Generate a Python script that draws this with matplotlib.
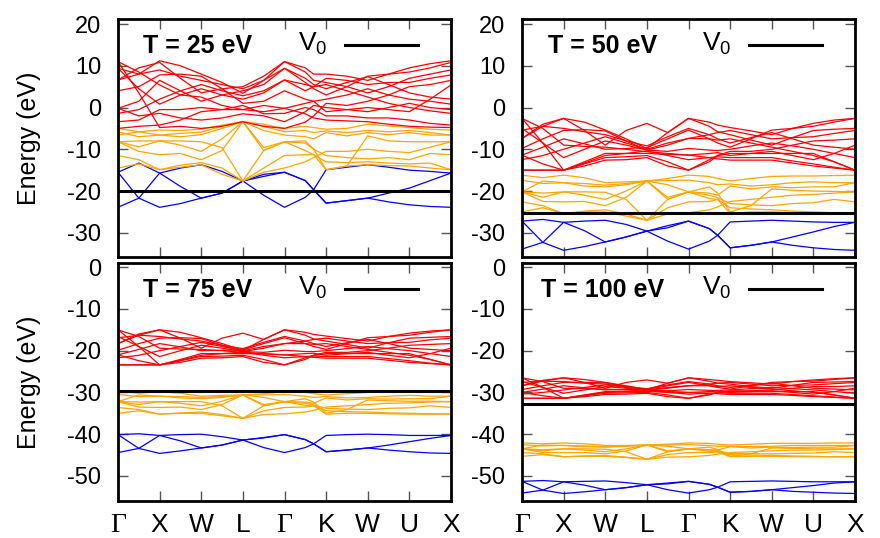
import matplotlib
matplotlib.use("Agg")
import matplotlib.pyplot as plt

plt.rcParams["font.family"] = ["Liberation Sans", "DejaVu Sans"]
plt.rcParams["axes.unicode_minus"] = False

# k-path sample positions (high-symmetry points at integers)
kpos = [0, 0.5, 1, 1.5, 2, 2.5, 3, 3.5, 4, 4.5, 4.7, 5, 5.5, 6, 6.5, 7, 7.5, 8]
kticks = [0, 1, 2, 3, 4, 5, 6, 7, 8]
klabels = ["Γ", "X", "W", "L", "Γ", "K", "W", "U", "X"]

temps = ["T = 25 eV", "T = 50 eV", "T = 75 eV", "T = 100 eV"]
v0_levels = [-20.0, -25.3, -29.6, -32.8]

# ---- T = 25 eV ----
t25_blue = [
    [-23.9, -21.7, -15.7, -14.5, -13.7, -15.3, -17.6, -21.0, -23.9, -21.5, -19.7, -14.9, -14.3, -13.7, -14.3, -15.0, -15.3, -15.7],
    [-15.5, -13.3, -15.7, -18.9, -21.7, -20.5, -17.6, -16.0, -15.5, -17.5, -19.7, -22.9, -22.3, -21.7, -20.5, -19.3, -17.5, -15.7],
    [-15.5, -21.7, -23.9, -23.0, -21.7, -20.5, -17.6, -16.5, -15.5, -17.5, -19.7, -22.9, -22.3, -21.7, -22.6, -23.3, -23.7, -23.9],
]
t25_orange = [
    [-5.0, -5.8, -5.4, -5.5, -5.2, -4.2, -3.4, -4.0, -5.0, -4.5, -4.8, -5.2, -5.0, -4.0, -4.4, -4.8, -5.2, -5.4],
    [-5.8, -7.0, -6.6, -6.2, -5.9, -4.5, -3.4, -4.5, -5.8, -5.5, -6.0, -5.6, -6.0, -5.5, -5.8, -5.5, -6.0, -6.6],
    [-6.6, -5.8, -6.6, -7.0, -6.5, -5.0, -3.4, -5.5, -6.6, -7.0, -7.5, -6.0, -6.8, -6.0, -6.5, -6.0, -6.6, -6.6],
    [-8.2, -9.4, -8.0, -8.0, -8.2, -9.6, -17.6, -15.5, -14.5, -13.0, -12.0, -10.5, -10.5, -10.0, -10.5, -10.8, -9.5, -8.2],
    [-8.2, -8.0, -8.0, -9.0, -10.5, -7.5, -3.4, -9.6, -8.2, -8.5, -10.0, -11.5, -12.0, -12.3, -12.0, -12.5, -11.0, -11.3],
    [-8.2, -10.5, -11.3, -11.0, -12.5, -10.3, -3.4, -10.3, -8.2, -10.3, -11.3, -13.0, -13.2, -13.0, -13.3, -13.5, -13.3, -14.9],
    [-11.5, -12.5, -14.9, -13.8, -13.2, -14.5, -17.6, -14.5, -11.5, -11.3, -11.3, -14.9, -14.0, -13.7, -13.9, -14.0, -14.5, -14.9],
    [-14.5, -13.5, -14.9, -14.3, -13.7, -16.0, -17.6, -10.3, -8.2, -8.0, -10.0, -14.9, -14.0, -6.8, -8.0, -8.2, -8.2, -8.2],
]
t25_red = [
    [11.0, 3.5, -4.8, -4.5, -5.0, -4.5, -3.4, -4.5, -5.0, -3.5, -2.0, 1.0, 0.5, 1.5, 3.0, 5.0, 5.5, 6.5],
    [11.0, 8.5, 5.4, 3.0, 2.5, 0.5, -0.5, -1.0, -0.2, -1.5, -2.5, -3.0, -3.2, -3.4, -4.0, -4.5, -4.7, -4.8],
    [9.4, 4.5, 0.8, 3.0, 4.5, 3.0, 2.0, 3.5, 6.6, 5.5, 5.0, 5.5, 4.0, 2.5, 1.0, 0.0, -0.8, -1.4],
    [9.4, 8.0, 9.0, 7.5, 6.5, 5.5, 4.5, 6.5, 9.4, 7.0, 5.5, 4.5, 6.0, 7.4, 5.5, 3.5, 2.5, 2.0],
    [6.6, 8.0, 11.2, 10.0, 8.0, 6.0, 3.4, 6.5, 11.0, 8.5, 6.5, 6.0, 5.0, 3.5, 5.0, 7.0, 8.0, 9.0],
    [6.6, 9.5, 10.8, 7.0, 3.5, 4.5, 5.0, 7.5, 11.0, 9.5, 8.0, 8.0, 7.5, 6.5, 8.0, 9.5, 10.5, 11.2],
    [4.0, 5.0, 7.8, 8.0, 7.5, 4.5, 1.0, 1.5, 4.0, 2.0, 1.5, 2.0, 3.0, 4.5, 3.0, 2.0, 1.5, 0.8],
    [-0.2, 1.5, 6.5, 4.0, 1.5, 3.0, 4.0, 5.5, 9.4, 6.0, 4.5, 3.0, 5.0, 7.5, 8.0, 8.5, 9.5, 10.8],
    [-0.2, -2.0, -1.4, -2.5, -3.0, -2.5, -1.5, -2.0, -3.4, -1.0, 0.5, 0.0, -0.5, -1.0, 0.0, 1.0, 0.0, -0.5],
    [-1.4, -0.5, 2.0, 4.0, 5.5, 4.0, 2.8, 4.0, 6.6, 4.0, 5.0, 7.0, 6.5, 5.5, 6.0, 6.0, 7.0, 7.8],
    [-3.4, -3.0, -0.5, -0.5, 0.0, -0.5, -0.5, 0.5, -0.2, 1.0, 1.5, -1.0, -0.5, 0.0, -0.5, -1.0, 2.0, 5.4],
    [-5.0, -4.5, -4.2, -3.0, -1.0, -0.5, 0.5, -1.5, -1.4, 0.0, -0.5, -2.0, -2.0, -2.5, -2.5, -3.0, -3.8, -4.2],
]

# ---- T = 50 eV ----
t50_blue = [
    [-33.9, -32.3, -27.5, -27.2, -27.0, -28.0, -29.6, -32.0, -33.9, -32.0, -30.6, -27.4, -27.2, -27.0, -27.2, -27.4, -27.5, -27.5],
    [-27.2, -26.8, -27.5, -29.5, -32.2, -31.0, -29.6, -28.3, -27.2, -29.0, -30.6, -33.6, -33.0, -32.2, -31.0, -29.8, -28.5, -27.5],
    [-27.2, -32.3, -34.2, -33.3, -32.2, -31.0, -29.6, -28.8, -27.2, -29.0, -30.6, -33.6, -33.0, -32.2, -33.0, -33.6, -34.0, -34.2],
]
t50_orange = [
    [-16.2, -16.8, -16.2, -16.8, -18.0, -17.8, -17.6, -17.0, -16.2, -16.5, -17.0, -17.6, -17.0, -16.5, -16.4, -16.4, -16.3, -16.2],
    [-17.4, -18.2, -18.0, -18.2, -18.6, -18.2, -17.6, -17.5, -17.4, -18.0, -18.5, -18.3, -18.8, -18.5, -18.0, -17.8, -18.0, -18.0],
    [-20.2, -17.6, -18.0, -18.8, -19.0, -18.5, -17.6, -18.5, -20.2, -20.5, -21.0, -18.8, -19.5, -19.0, -19.2, -19.0, -19.0, -18.0],
    [-20.2, -21.5, -20.2, -20.2, -20.3, -22.0, -27.0, -25.5, -25.2, -24.5, -23.8, -22.5, -22.0, -21.5, -21.0, -20.8, -20.5, -20.2],
    [-20.2, -20.5, -20.2, -21.0, -22.0, -20.0, -17.6, -21.5, -20.2, -21.0, -21.6, -23.0, -23.3, -23.5, -23.0, -22.8, -22.0, -22.6],
    [-20.2, -22.5, -22.6, -22.5, -23.5, -21.5, -17.6, -22.0, -20.2, -21.8, -22.0, -24.0, -24.3, -24.5, -24.8, -25.0, -25.2, -25.4],
    [-22.6, -23.5, -25.4, -24.8, -24.5, -25.5, -27.0, -24.0, -22.6, -22.5, -22.0, -25.4, -25.0, -25.0, -25.2, -25.3, -25.4, -25.4],
    [-25.0, -24.0, -25.4, -25.0, -25.0, -26.0, -27.0, -22.0, -20.2, -19.0, -20.5, -25.0, -23.5, -19.5, -19.8, -20.0, -20.1, -20.2],
]
t50_red = [
    [-2.6, -8.5, -15.0, -14.0, -12.6, -12.5, -12.0, -14.0, -15.0, -13.0, -11.5, -10.5, -10.5, -10.0, -9.0, -8.0, -7.8, -7.5],
    [-2.6, -5.0, -9.0, -9.3, -9.5, -10.0, -10.6, -11.0, -11.4, -12.0, -12.3, -12.6, -12.6, -12.6, -13.3, -14.0, -14.5, -15.0],
    [-5.0, -8.5, -12.0, -10.0, -8.0, -9.0, -10.2, -9.0, -7.4, -7.5, -7.8, -7.5, -8.5, -9.5, -10.5, -11.5, -13.0, -15.0],
    [-5.4, -4.5, -5.0, -5.8, -6.5, -8.0, -9.2, -7.0, -5.0, -6.5, -7.5, -8.5, -7.2, -6.0, -7.5, -9.0, -9.5, -10.0],
    [-7.4, -4.5, -2.6, -3.5, -5.4, -7.5, -9.8, -6.0, -2.6, -4.5, -5.8, -6.5, -7.8, -9.0, -7.2, -5.5, -5.2, -5.0],
    [-7.4, -4.0, -2.6, -5.5, -9.0, -5.5, -3.8, -6.0, -2.6, -3.5, -4.2, -4.8, -5.6, -6.5, -5.0, -3.8, -3.0, -2.6],
    [-9.8, -7.5, -5.5, -5.3, -5.6, -8.0, -10.2, -10.5, -9.8, -10.2, -10.3, -10.0, -9.2, -8.5, -9.2, -10.0, -11.0, -12.0],
    [-11.4, -9.5, -7.5, -8.7, -10.0, -9.8, -9.6, -7.5, -5.4, -7.5, -8.5, -9.5, -7.5, -5.4, -5.0, -4.5, -3.5, -2.6],
    [-11.4, -13.5, -15.0, -13.5, -12.0, -11.8, -11.5, -13.0, -15.0, -12.5, -11.5, -11.0, -11.0, -11.0, -11.0, -11.0, -13.0, -15.0],
    [-12.5, -11.5, -10.0, -8.5, -7.0, -8.5, -10.0, -8.5, -7.4, -6.5, -6.0, -5.5, -6.5, -7.5, -7.2, -7.0, -6.2, -5.5],
    [-15.0, -15.0, -15.0, -13.0, -11.0, -11.0, -11.0, -11.2, -11.4, -11.0, -10.8, -11.5, -11.0, -10.5, -11.5, -12.5, -11.0, -9.0],
    [-15.0, -15.0, -15.0, -13.3, -11.5, -11.0, -10.4, -11.5, -12.5, -12.0, -11.8, -12.0, -12.0, -12.0, -12.8, -13.5, -14.3, -15.0],
]

# ---- T = 75 eV ----
t75_blue = [
    [-44.4, -43.4, -40.3, -40.1, -40.0, -40.6, -41.4, -43.2, -44.4, -43.2, -42.3, -40.3, -40.1, -40.0, -40.1, -40.3, -40.3, -40.3],
    [-40.1, -39.9, -40.3, -41.6, -43.3, -42.6, -41.4, -40.8, -40.1, -41.3, -42.3, -44.2, -43.8, -43.3, -42.6, -41.8, -41.0, -40.3],
    [-40.1, -43.4, -44.6, -44.0, -43.3, -42.6, -41.4, -40.9, -40.1, -41.3, -42.3, -44.2, -43.8, -43.3, -43.8, -44.2, -44.5, -44.6],
]
t75_orange = [
    [-29.8, -30.2, -29.8, -30.2, -30.9, -30.7, -30.6, -30.3, -29.8, -30.0, -30.3, -30.6, -30.3, -30.0, -29.9, -29.9, -29.9, -29.8],
    [-30.5, -31.0, -30.9, -31.0, -31.2, -31.0, -30.6, -30.6, -30.5, -30.9, -31.2, -31.0, -31.3, -31.2, -30.9, -30.7, -30.9, -30.9],
    [-32.2, -30.6, -30.9, -31.3, -31.5, -31.2, -30.6, -31.2, -32.2, -32.3, -32.6, -31.3, -31.8, -31.5, -31.6, -31.5, -31.5, -30.9],
    [-32.2, -32.9, -32.2, -32.2, -32.2, -33.2, -36.2, -35.3, -35.1, -34.7, -34.3, -33.5, -33.2, -32.9, -32.6, -32.5, -32.3, -32.2],
    [-32.2, -32.3, -32.2, -32.6, -33.2, -32.1, -30.6, -32.9, -32.2, -32.6, -33.0, -33.8, -34.0, -34.1, -33.8, -33.7, -33.2, -33.6],
    [-32.2, -33.5, -33.6, -33.5, -34.1, -32.9, -30.6, -33.2, -32.2, -33.1, -33.2, -34.4, -34.6, -34.7, -34.9, -35.0, -35.1, -35.2],
    [-33.6, -34.1, -35.2, -34.9, -34.7, -35.3, -36.2, -34.4, -33.6, -33.5, -33.2, -35.2, -35.0, -35.0, -35.1, -35.2, -35.2, -35.2],
    [-35.0, -34.4, -35.2, -35.0, -35.0, -35.6, -36.2, -33.2, -32.2, -31.5, -32.3, -35.0, -34.1, -31.8, -32.0, -32.1, -32.1, -32.2],
]
t75_red = [
    [-15.0, -19.0, -23.4, -22.8, -21.8, -21.7, -21.4, -22.8, -23.4, -22.1, -21.1, -20.4, -20.4, -20.0, -19.4, -18.7, -18.5, -18.3],
    [-15.0, -16.6, -19.4, -19.6, -19.7, -20.0, -20.4, -20.7, -21.0, -21.4, -21.6, -21.8, -21.8, -21.8, -22.3, -22.8, -23.1, -23.4],
    [-16.6, -19.0, -21.4, -20.0, -18.7, -19.4, -20.2, -19.4, -18.3, -18.3, -18.5, -18.3, -19.0, -19.7, -20.4, -21.1, -22.1, -23.4],
    [-16.9, -16.3, -16.6, -17.2, -17.7, -18.7, -19.5, -18.0, -16.6, -17.7, -18.3, -19.0, -18.1, -17.3, -18.3, -19.4, -19.7, -20.0],
    [-18.3, -16.3, -15.0, -15.6, -16.9, -18.3, -19.9, -17.3, -15.0, -16.3, -17.2, -17.7, -18.5, -19.4, -18.1, -17.0, -16.8, -16.6],
    [-18.3, -16.0, -15.0, -17.0, -19.4, -17.0, -15.8, -17.3, -15.0, -15.6, -16.1, -16.5, -17.1, -17.7, -16.6, -15.8, -15.3, -15.0],
    [-19.9, -18.3, -17.0, -16.9, -17.1, -18.7, -20.2, -20.4, -19.9, -20.2, -20.2, -20.0, -19.5, -19.0, -19.5, -20.0, -20.7, -21.4],
    [-21.0, -19.7, -18.3, -19.1, -20.0, -19.9, -19.8, -18.3, -16.9, -18.3, -19.0, -19.7, -18.3, -16.9, -16.6, -16.3, -15.6, -15.0],
    [-21.0, -22.4, -23.4, -22.4, -21.4, -21.3, -21.1, -22.1, -23.4, -21.7, -21.1, -20.7, -20.7, -20.7, -20.7, -20.7, -22.1, -23.4],
    [-21.7, -21.1, -20.0, -19.0, -18.0, -19.0, -20.0, -19.0, -18.3, -17.7, -17.3, -17.0, -17.7, -18.3, -18.1, -18.0, -17.4, -17.0],
    [-23.4, -23.4, -23.4, -22.1, -20.7, -20.7, -20.7, -20.8, -21.0, -20.7, -20.6, -21.1, -20.7, -20.4, -21.1, -21.7, -20.7, -19.4],
    [-23.4, -23.4, -23.4, -22.3, -21.1, -20.7, -20.3, -21.1, -21.7, -21.4, -21.3, -21.4, -21.4, -21.4, -21.9, -22.4, -23.0, -23.4],
]

# ---- T = 100 eV ----
t100_blue = [
    [-54.1, -53.4, -51.4, -51.3, -51.2, -51.6, -52.1, -53.3, -54.1, -53.3, -52.7, -51.4, -51.3, -51.2, -51.3, -51.4, -51.4, -51.4],
    [-51.3, -51.1, -51.4, -52.2, -53.3, -52.8, -52.1, -51.7, -51.3, -52.0, -52.7, -53.9, -53.7, -53.3, -52.8, -52.3, -51.7, -51.4],
    [-51.3, -53.4, -54.2, -53.8, -53.3, -52.8, -52.1, -51.9, -51.3, -52.0, -52.7, -53.9, -53.7, -53.3, -53.7, -53.9, -54.1, -54.2],
]
t100_orange = [
    [-42.1, -42.3, -42.1, -42.3, -42.7, -42.7, -42.6, -42.4, -42.1, -42.2, -42.4, -42.6, -42.4, -42.2, -42.2, -42.2, -42.1, -42.1],
    [-42.5, -42.8, -42.7, -42.8, -43.0, -42.8, -42.6, -42.6, -42.5, -42.7, -42.9, -42.9, -43.0, -42.9, -42.7, -42.7, -42.7, -42.7],
    [-43.5, -42.6, -42.7, -43.0, -43.1, -42.9, -42.6, -42.9, -43.5, -43.7, -43.8, -43.0, -43.3, -43.1, -43.2, -43.1, -43.1, -42.7],
    [-43.5, -44.0, -43.5, -43.5, -43.6, -44.2, -46.0, -45.5, -45.4, -45.1, -44.8, -44.4, -44.2, -44.0, -43.8, -43.8, -43.7, -43.5],
    [-43.5, -43.7, -43.5, -43.8, -44.2, -43.5, -42.6, -44.0, -43.5, -43.8, -44.0, -44.6, -44.7, -44.7, -44.6, -44.5, -44.2, -44.4],
    [-43.5, -44.4, -44.4, -44.4, -44.7, -44.0, -42.6, -44.2, -43.5, -44.1, -44.2, -44.9, -45.0, -45.1, -45.2, -45.3, -45.4, -45.4],
    [-44.4, -44.7, -45.4, -45.2, -45.1, -45.5, -46.0, -44.9, -44.4, -44.4, -44.2, -45.4, -45.3, -45.3, -45.4, -45.4, -45.4, -45.4],
    [-45.3, -44.9, -45.4, -45.3, -45.3, -45.6, -46.0, -44.2, -43.5, -43.1, -43.7, -45.3, -44.7, -43.3, -43.4, -43.5, -43.5, -43.5],
]
t100_red = [
    [-26.5, -28.8, -31.4, -31.0, -30.5, -30.4, -30.2, -31.0, -31.4, -30.6, -30.0, -29.6, -29.6, -29.4, -29.0, -28.6, -28.6, -28.4],
    [-26.5, -27.4, -29.0, -29.1, -29.2, -29.4, -29.7, -29.8, -30.0, -30.2, -30.3, -30.5, -30.5, -30.5, -30.7, -31.0, -31.2, -31.4],
    [-27.4, -28.8, -30.2, -29.4, -28.6, -29.0, -29.5, -29.0, -28.4, -28.4, -28.6, -28.4, -28.8, -29.2, -29.6, -30.0, -30.6, -31.4],
    [-27.6, -27.3, -27.4, -27.8, -28.0, -28.6, -29.1, -28.2, -27.4, -28.0, -28.4, -28.8, -28.3, -27.8, -28.4, -29.0, -29.2, -29.4],
    [-28.4, -27.3, -26.5, -26.9, -27.6, -28.4, -29.3, -27.8, -26.5, -27.3, -27.8, -28.0, -28.6, -29.0, -28.3, -27.6, -27.5, -27.4],
    [-28.4, -27.1, -26.5, -27.6, -29.0, -27.6, -27.0, -27.8, -26.5, -26.9, -27.1, -27.4, -27.7, -28.0, -27.4, -27.0, -26.7, -26.5],
    [-29.3, -28.4, -27.6, -27.6, -27.7, -28.6, -29.5, -29.6, -29.3, -29.5, -29.5, -29.4, -29.1, -28.8, -29.1, -29.4, -29.8, -30.2],
    [-30.0, -29.2, -28.4, -28.9, -29.4, -29.3, -29.3, -28.4, -27.6, -28.4, -28.8, -29.2, -28.4, -27.6, -27.4, -27.3, -26.9, -26.5],
    [-30.0, -30.8, -31.4, -30.8, -30.2, -30.1, -30.0, -30.6, -31.4, -30.4, -30.0, -29.8, -29.8, -29.8, -29.8, -29.8, -30.6, -31.4],
    [-30.4, -30.0, -29.4, -28.8, -28.2, -28.8, -29.4, -28.8, -28.4, -28.0, -27.8, -27.6, -28.0, -28.4, -28.3, -28.2, -27.9, -27.6],
    [-31.4, -31.4, -31.4, -30.6, -29.8, -29.8, -29.8, -29.9, -30.0, -29.8, -29.7, -30.0, -29.8, -29.6, -30.0, -30.4, -29.8, -29.0],
    [-31.4, -31.4, -31.4, -30.7, -30.0, -29.8, -29.6, -30.0, -30.4, -30.2, -30.1, -30.2, -30.2, -30.2, -30.5, -30.8, -31.1, -31.4],
]

panels = [
    (t25_blue, t25_orange, t25_red),
    (t50_blue, t50_orange, t50_red),
    (t75_blue, t75_orange, t75_red),
    (t100_blue, t100_orange, t100_red),
]
group_colors = ["#0000ff", "#ffa500", "#ff0000"]

fig = plt.figure(figsize=(8.8, 5.38), dpi=100)
W, H = 880.0, 538.0
# axes boxes in pixels: left, top, right, bottom
boxes = [(118, 19, 451, 257), (522, 19, 855, 257),
         (118, 263, 451, 501), (522, 263, 855, 501)]
title_x = [0.075, 0.078, 0.075, 0.058]

for idx, (box, bands) in enumerate(zip(boxes, panels)):
    l, t, r, b = box
    ax = fig.add_axes([l / W, 1 - b / H, (r - l) / W, (b - t) / H])

    for group, col in zip(bands, group_colors):
        for band in group:
            ax.plot(kpos, band, color=col, lw=0.9, solid_joinstyle="round")

    ax.axhline(v0_levels[idx], color="black", lw=2.2, zorder=5)

    ax.set_xlim(0, 8)
    if idx < 2:
        ax.set_ylim(-35.8, 21.2)
        ax.set_yticks([-30, -20, -10, 0, 10, 20])
    else:
        ax.set_ylim(-56.0, 1.0)
        ax.set_yticks([-50, -40, -30, -20, -10, 0])

    ax.set_xticks(kticks)
    if idx >= 2:
        ax.set_xticklabels(klabels, fontsize=19)
        for lab in ax.get_xticklabels():
            if lab.get_text() == "Γ":
                lab.set_fontfamily("Liberation Serif")
                lab.set_fontsize(20)
    else:
        ax.set_xticklabels([])

    ax.tick_params(direction="in", length=7, width=1.0, color="#555555",
                   top=True, right=True)
    ax.tick_params(axis="y", pad=12, labelsize=17)
    ax.tick_params(axis="x", pad=9)
    for sp in ax.spines.values():
        sp.set_linewidth(2.0)

    if idx % 2 == 0:
        ax.set_ylabel("Energy (eV)", fontsize=18, labelpad=19)

    ax.text(title_x[idx], 0.885, temps[idx], transform=ax.transAxes,
            fontsize=18, fontweight="bold", va="center", ha="left")
    ax.text(0.63, 0.895, r"V$_{\mathregular{0}}$", transform=ax.transAxes,
            fontsize=19, va="center", ha="right")
    ax.plot([0.682, 0.902], [0.89, 0.89], transform=ax.transAxes,
            color="black", lw=2.2)

fig.savefig("out.png", dpi=100)
